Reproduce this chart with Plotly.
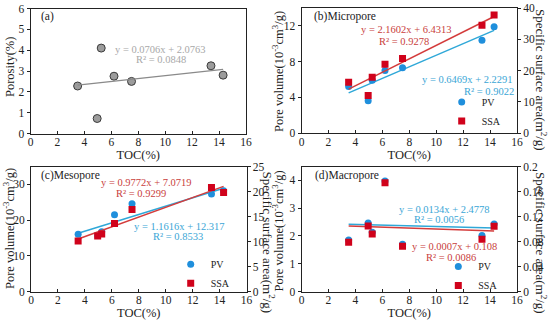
import numpy as np
import plotly.graph_objects as go

# ---------------- data ----------------
toc = [3.5, 4.95, 5.25, 6.2, 7.5, 13.4, 14.3]
porosity = [2.28, 0.72, 4.1, 2.75, 2.5, 3.25, 2.8]

micro_pv = [5.2, 3.6, 5.9, 7.0, 7.3, 10.4, 11.9]
micro_ssa = [16.2, 12.0, 17.8, 22.0, 23.8, 34.5, 37.8]

meso_pv = [16.0, 15.7, 16.7, 21.5, 24.6, 27.3, 28.2]
meso_ssa = [10.1, 11.1, 11.5, 13.6, 16.4, 20.8, 19.8]

macro_pv = [1.85, 2.47, 2.13, 3.98, 1.70, 2.02, 2.43]
macro_ssa = [0.079, 0.105, 0.092, 0.174, 0.0725, 0.0836, 0.1044]

eq_a = ["y = 0.0706x + 2.0763", "R² = 0.0848"]
eq_b_ssa = ["y = 2.1602x + 6.4313", "R² = 0.9278"]
eq_b_pv = ["y = 0.6469x + 2.2291", "R² = 0.9022"]
eq_c_ssa = ["y = 0.9772x + 7.0719", "R² = 0.9299"]
eq_c_pv = ["y = 1.1616x + 12.317", "R² = 0.8533"]
eq_d_pv = ["y = 0.0134x + 2.4778", "R² = 0.0056"]
eq_d_ssa = ["y = 0.0007x + 0.108", "R² = 0.0086"]

# ---------------- style ----------------
W, H = 550, 321
FONT = "Liberation Serif"
BLUE_M = "#1f8fdc"
RED_M = "#d0021b"
BLUE_L = "#2fa8d8"
RED_L = "#d43c3c"
BLUE_T = "#3aa6d6"
RED_T = "#c9403c"
GRAY_L = "#8a8a8a"
GRAY_T = "#a8a8a8"


def px(x):
    return x / W


def py(y):
    return 1 - y / H


def fit_line(x, y):
    k, b = np.polyfit(x, y, 1)
    xs = np.array([min(x), max(x)])
    return xs, k * xs + b


fig = go.Figure()

# (a)
fig.add_trace(go.Scatter(x=toc, y=porosity, mode="markers", xaxis="x", yaxis="y",
                         marker=dict(size=8, color="#9c9c9c", line=dict(color="#3a3a3a", width=1)),
                         showlegend=False))
lx, ly = fit_line(toc, porosity)
fig.add_trace(go.Scatter(x=lx, y=ly, mode="lines", xaxis="x", yaxis="y",
                         line=dict(color=GRAY_L, width=1.2), showlegend=False))


def add_panel(xa, ya_l, ya_r, pv, ssa, legend):
    lx, ly = fit_line(toc, pv)
    fig.add_trace(go.Scatter(x=lx, y=ly, mode="lines", xaxis=xa, yaxis=ya_l,
                             line=dict(color=BLUE_L, width=1.5), showlegend=False))
    lx, ly = fit_line(toc, ssa)
    fig.add_trace(go.Scatter(x=lx, y=ly, mode="lines", xaxis=xa, yaxis=ya_r,
                             line=dict(color=RED_L, width=1.5), showlegend=False))
    fig.add_trace(go.Scatter(x=toc, y=ssa, mode="markers", xaxis=xa, yaxis=ya_r, name="SSA",
                             marker=dict(symbol="square", size=7, color=RED_M), legend=legend,
                             legendrank=2))
    fig.add_trace(go.Scatter(x=toc, y=pv, mode="markers", xaxis=xa, yaxis=ya_l, name="PV",
                             marker=dict(symbol="circle", size=7, color=BLUE_M), legend=legend,
                             legendrank=1))


add_panel("x2", "y2", "y3", micro_pv, micro_ssa, "legend")
add_panel("x3", "y4", "y5", meso_pv, meso_ssa, "legend2")
add_panel("x4", "y6", "y7", macro_pv, macro_ssa, "legend3")

tickfont = dict(family=FONT, size=11.5, color="#222")
titlefont = dict(family=FONT, size=12.5, color="#222")

common = dict(showline=True, linecolor="#222", linewidth=1, showgrid=False, zeroline=False,
              tickfont=tickfont, ticklen=3, tickcolor="#222", automargin=False)


def xaxis(dom, anchor):
    return dict(domain=[px(dom[0]), px(dom[1])], anchor=anchor, range=[0, 16], dtick=2,
                ticks="inside", mirror=True, ticklabelstandoff=-2,
                title=dict(text="TOC(%)", font=titlefont, standoff=0), **common)


def yaxis(dom, anchor, rng, dtick, side="left", overlaying=None):
    d = dict(domain=[py(dom[1]), py(dom[0])], anchor=anchor, range=rng, dtick=dtick,
             ticks="outside", side=side, **common)
    if overlaying:
        d["overlaying"] = overlaying
    else:
        d["mirror"] = True
    return d


A = (30.5, 246, 8.5, 133.5)
B = (301.5, 517, 8, 133)
C = (31, 246.5, 166.5, 291.5)
D = (301.5, 517, 166.5, 291.5)

por_title = "Porosity(%)"
pv_title = "Pore volume(10<sup>-3</sup>cm<sup>3</sup>/g)"
ssa_title = "Specific surface area(m<sup>2</sup>/g)"

fig.update_layout(
    template="none",
    width=W, height=H, margin=dict(l=0, r=0, t=0, b=0, autoexpand=False),
    paper_bgcolor="white", plot_bgcolor="white",
    font=dict(family=FONT, color="#222"),
    xaxis=xaxis(A[:2], "y"),
    yaxis=yaxis(A[2:], "x", [0, 6], 1),
    xaxis2=xaxis(B[:2], "y2"),
    yaxis2=yaxis(B[2:], "x2", [0, 14], 4),
    yaxis3=yaxis(B[2:], "x2", [0, 40], 10, side="right", overlaying="y2"),
    xaxis3=xaxis(C[:2], "y4"),
    yaxis4=yaxis(C[2:], "x3", [0, 35], 10),
    yaxis5=yaxis(C[2:], "x3", [0, 25], 5, side="right", overlaying="y4"),
    xaxis4=xaxis(D[:2], "y6"),
    yaxis6=yaxis(D[2:], "x4", [0, 4.5], 1),
    yaxis7=yaxis(D[2:], "x4", [0, 0.2], 0.04, side="right", overlaying="y6"),
)

legfont = dict(family=FONT, size=10, color="#222")
for name, (mx, my) in [("legend", (461.7, 99.4)), ("legend2", (190.7, 261.7)), ("legend3", (458.3, 263.9))]:
    fig.update_layout({name: dict(x=px(mx - 20), y=py(my - 12), xanchor="left", yanchor="top",
                                  bgcolor="rgba(0,0,0,0)", borderwidth=0, font=legfont,
                                  itemwidth=30)})

anns = []


def ann(text, x, y, color, size=10.5, xanchor="center", angle=0):
    anns.append(dict(text=text, x=px(x), y=py(y), xref="paper", yref="paper", showarrow=False,
                     xanchor=xanchor, yanchor="middle", textangle=angle,
                     font=dict(family=FONT, size=size, color=color)))


ann(eq_a[0], 160.5, 49.3, GRAY_T)
ann(eq_a[1], 160.7, 59.5, GRAY_T)
ann(eq_b_ssa[0], 406.7, 29.3, RED_T)
ann(eq_b_ssa[1], 404, 41.7, RED_T)
ann(eq_b_pv[0], 467.5, 79.3, BLUE_T)
ann(eq_b_pv[1], 489, 91.5, BLUE_T)
ann(eq_c_ssa[0], 146.7, 183, RED_T)
ann(eq_c_ssa[1], 141, 193.5, RED_T)
ann(eq_c_pv[0], 179, 226.3, BLUE_T)
ann(eq_c_pv[1], 178, 236.8, BLUE_T)
ann(eq_d_pv[0], 444, 209.3, BLUE_T)
ann(eq_d_pv[1], 439, 219.8, BLUE_T)
ann(eq_d_ssa[0], 454, 246.8, RED_T)
ann(eq_d_ssa[1], 451, 257.3, RED_T)

ann("(a)", 39, 16, "#222", size=11.5, xanchor="left")
ann("(b)Micropore", 311.5, 16.5, "#222", size=11.5, xanchor="left")
ann("(c)Mesopore", 39, 176, "#222", size=11.5, xanchor="left")
ann("(d)Macropore", 312.5, 176, "#222", size=11.5, xanchor="left")

# y-axis titles (left ones read bottom-to-top, right ones top-to-bottom)
ann(por_title, 10, 67, "#222", size=12.5, angle=-90)
ann(pv_title, 278, 72, "#222", size=12.5, angle=-90)
ann(pv_title, 9, 229, "#222", size=12.5, angle=-90)
ann(pv_title, 277.5, 231, "#222", size=12.5, angle=-90)
ann(ssa_title, 541, 80, "#222", size=13, angle=90)
ann(ssa_title, 268.5, 242, "#222", size=13, angle=90)
ann(ssa_title, 541, 243, "#222", size=13, angle=90)

fig.update_layout(annotations=anns)
fig.write_html("out.html", config={"displayModeBar": False},
               post_script="document.body.style.margin='0';")
